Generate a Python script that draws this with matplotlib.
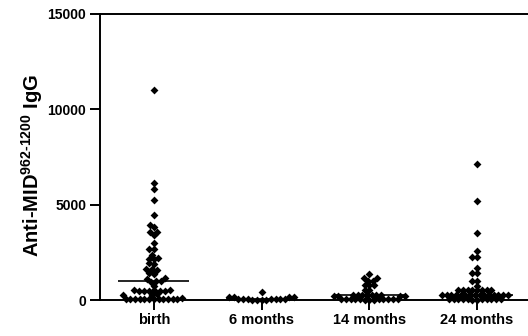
import numpy as np
import matplotlib
matplotlib.use("Agg")
import matplotlib.pyplot as plt

plt.rcParams['font.family'] = ['Liberation Sans', 'DejaVu Sans']
plt.rcParams['font.weight'] = 'bold'
plt.rcParams['mathtext.fontset'] = 'custom'
plt.rcParams['mathtext.rm'] = 'Liberation Sans:bold'
plt.rcParams['mathtext.it'] = 'Liberation Sans:bold'
plt.rcParams['mathtext.bf'] = 'Liberation Sans:bold'

groups = ['birth', '6 months', '14 months', '24 months']

birth = [11040, 6130, 5820, 5240, 4480, 3950, 3850, 3590, 3550, 3430, 3000,
         2700, 2680, 2380, 2200, 2170, 2150, 1920, 1880, 1620, 1600, 1580,
         1400, 1380, 1130, 1110, 1000, 980, 960, 760,
         520, 510, 500, 490, 480, 470, 460, 450,
         300, 280, 260,
         80, 78, 76, 74, 72, 70, 68, 66, 64, 62, 60, 58, 56]
six_months = [410, 170, 160, 150, 140, 40, 38, 36, 34, 32, 30, 28, 26, 24,
              22, 20]
fourteen_months = [1370, 1130, 1130, 1020, 1020, 780, 780, 780, 500, 500,
                   250, 248, 246, 244, 242, 240, 238, 236, 234, 232, 230,
                   36, 35, 34, 33, 32, 31, 30, 29, 28, 27, 26, 25, 24]
twentyfour_months = [7140, 5210, 3540, 2580, 2240, 2240, 1700, 1400, 1400,
                     1020, 1020, 760,
                     540, 535, 530, 525, 520, 515, 510, 505,
                     270, 268, 266, 264, 262, 260, 258, 256, 254, 252, 250,
                     248, 246, 244, 242,
                     36, 35, 34, 33, 32, 31, 30, 29, 28, 27, 26, 25]

values = [birth, six_months, fourteen_months, twentyfour_months]


def swarm_offsets(vals, px_per_val, gap):
    """Beeswarm x offsets (in px) so that points stay at least `gap` px apart."""
    order = np.argsort(vals)
    ys = np.asarray(vals, float)[order] * px_per_val
    placed_x, placed_y = [], []
    out = np.zeros(len(vals))
    for k, y in enumerate(ys):
        cands = [0.0]
        for px, py in zip(placed_x, placed_y):
            dy = abs(y - py)
            if dy < gap:
                dx = np.sqrt(gap ** 2 - dy ** 2)
                cands += [px - dx, px + dx]
        cands.sort(key=abs)
        for c in cands:
            if all((c - px) ** 2 + (y - py) ** 2 >= gap ** 2 - 1e-6
                   for px, py in zip(placed_x, placed_y)):
                break
        placed_x.append(c)
        placed_y.append(y)
        out[order[k]] = c
    return out


fig = plt.figure(figsize=(5.28, 3.36), dpi=100)
ax = fig.add_axes([100 / 528, 36 / 336, 431 / 528, 286 / 336])
ax.set_xlim(-0.5, 3.5)
ax.set_ylim(0, 15000)

bbox = ax.get_window_extent()
px_per_val = bbox.height / 15000
px_per_cat = bbox.width / 4

for i, v in enumerate(values):
    dx = swarm_offsets(v, px_per_val, 4.7) / px_per_cat
    ax.scatter(i + dx, v, marker='D', s=16, color='black', linewidths=0,
               zorder=2, clip_on=False)
    ax.hlines(np.median(v), i - 0.33, i + 0.33, color='black', lw=1.2, zorder=3)

ax.set_xticks(range(len(groups)))
ax.set_xticklabels(groups)
ax.set_yticks([0, 5000, 10000, 15000])
ax.set_ylabel(r'Anti-MID$^{962\text{-}1200}$ IgG', fontsize=14.5,
              fontweight='bold')
ax.yaxis.set_label_coords(-0.128, 0.47)
ax.tick_params(axis='both', direction='out', length=7, width=1.4, pad=3)
ax.tick_params(axis='y', labelsize=10)
ax.tick_params(axis='x', labelsize=10.5, pad=2)
for lab in ax.get_xticklabels() + ax.get_yticklabels():
    lab.set_fontweight('bold')
for side in ['left', 'bottom', 'top']:
    ax.spines[side].set_linewidth(1.4)
ax.spines['right'].set_visible(False)

fig.savefig('out.png', dpi=100)
